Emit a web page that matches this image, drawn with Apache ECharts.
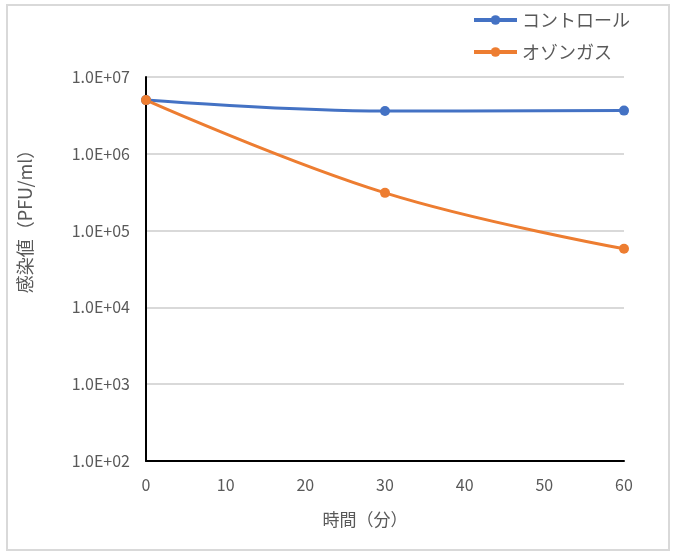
<!DOCTYPE html>
<html>
<head>
<meta charset="utf-8">
<script src="https://cdn.jsdelivr.net/npm/echarts@6/dist/echarts.min.js"></script>
<style>
html,body{margin:0;padding:0;background:#fff;}
#c{width:677px;height:556px;}
</style>
</head>
<body>
<div id="c"></div>
<script>
var times = [0, 30, 60];
var controlValues = [5.0e6, 3.6e6, 3.65e6];
var ozoneValues = [5.0e6, 3.1e5, 5.8e4];
var seriesNames = ['コントロール', 'オゾンガス'];
var yAxisTitle = '感染値（PFU/ml）';
var xAxisTitle = '時間（分）';

function pairs(xs, ys) { return xs.map(function (x, i) { return [x, ys[i]]; }); }
function sci(v) {
  var e = Math.round(Math.log10(v));
  var m = v / Math.pow(10, e);
  return m.toFixed(1) + 'E+' + (e < 10 ? '0' : '') + e;
}

var font = '"Noto Sans CJK JP", "Noto Sans", sans-serif';
var chart = echarts.init(document.getElementById('c'));
chart.setOption({
  animation: false,
  textStyle: { fontFamily: font },
  graphic: [{
    type: 'rect', silent: true, z: -10,
    shape: { x: 7, y: 5, width: 662, height: 545 },
    style: { fill: '#fff', stroke: '#d9d9d9', lineWidth: 2 }
  }],
  legend: {
    orient: 'vertical', left: 467, top: 6, itemGap: 14,
    itemWidth: 43, itemHeight: 12,
    lineStyle: { width: 4 },
    textStyle: { fontSize: 18, color: '#595959', fontFamily: font },
    data: seriesNames
  },
  grid: { left: 146, right: 53, top: 77, bottom: 95, containLabel: false },
  xAxis: {
    type: 'value', min: 0, max: 60, interval: 10,
    name: xAxisTitle, nameLocation: 'middle', nameGap: 50,
    nameTextStyle: { fontSize: 17, color: '#595959', padding: [0, 40, 0, 0] },
    axisLine: { show: true, onZero: false, lineStyle: { color: '#000', width: 2 } },
    axisTick: { show: false },
    splitLine: { show: false },
    axisLabel: { fontSize: 16, color: '#595959', margin: 16 }
  },
  yAxis: {
    type: 'log', logBase: 10, min: 100, max: 1e7,
    name: yAxisTitle, nameLocation: 'middle', nameGap: 112, nameRotate: 90,
    nameTextStyle: { fontSize: 18, color: '#595959', padding: [0, 0, 0, 104] },
    axisLine: { show: true, lineStyle: { color: '#000', width: 2 } },
    axisTick: { show: false },
    splitLine: { show: true, lineStyle: { color: '#d9d9d9', width: 2 } },
    axisLabel: { fontSize: 16, color: '#595959', margin: 16, formatter: sci }
  },
  series: [{
    name: seriesNames[0], type: 'line', smooth: 0.4,
    data: pairs(times, controlValues),
    symbol: 'circle', symbolSize: 10,
    lineStyle: { color: '#4472c4', width: 3 },
    itemStyle: { color: '#4472c4' }
  }, {
    name: seriesNames[1], type: 'line', smooth: 0.4,
    data: pairs(times, ozoneValues),
    symbol: 'circle', symbolSize: 10,
    lineStyle: { color: '#ed7d31', width: 3 },
    itemStyle: { color: '#ed7d31' }
  }]
});
</script>
</body>
</html>
